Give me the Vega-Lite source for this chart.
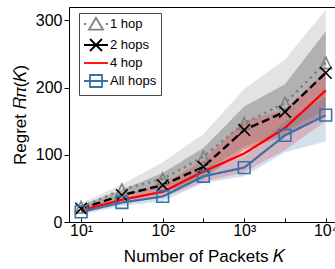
{
  "$schema": "https://vega.github.io/schema/vega-lite/v6.json",
  "autosize": {"type": "none"},
  "padding": {"left": 69, "top": 7, "right": 0, "bottom": 47},
  "width": 269,
  "height": 215,
  "config": {
    "font": "Liberation Sans",
    "view": {"stroke": "black", "strokeWidth": 1},
    "axis": {"domainColor": "black", "tickColor": "black", "labelColor": "black", "titleColor": "black", "grid": false, "labelFont": "Liberation Sans", "titleFont": "Liberation Sans", "titleFontWeight": "normal"}
  },
  "data": {
    "values": [
      {"series": "1 hop", "k": 10, "mean": 22, "lo": 17, "hi": 28},
      {"series": "1 hop", "k": 31.62, "mean": 48, "lo": 38, "hi": 56},
      {"series": "1 hop", "k": 100, "mean": 64, "lo": 50, "hi": 89},
      {"series": "1 hop", "k": 316.2, "mean": 97, "lo": 74, "hi": 131},
      {"series": "1 hop", "k": 1000, "mean": 147, "lo": 112, "hi": 198},
      {"series": "1 hop", "k": 3162, "mean": 177, "lo": 135, "hi": 242},
      {"series": "1 hop", "k": 10000, "mean": 237, "lo": 168, "hi": 316},
      {"series": "2 hops", "k": 10, "mean": 20, "lo": 15, "hi": 25},
      {"series": "2 hops", "k": 31.62, "mean": 40, "lo": 33, "hi": 48},
      {"series": "2 hops", "k": 100, "mean": 55, "lo": 43, "hi": 73},
      {"series": "2 hops", "k": 316.2, "mean": 82, "lo": 64, "hi": 110},
      {"series": "2 hops", "k": 1000, "mean": 137, "lo": 108, "hi": 172},
      {"series": "2 hops", "k": 3162, "mean": 164, "lo": 128, "hi": 205},
      {"series": "2 hops", "k": 10000, "mean": 222, "lo": 162, "hi": 284},
      {"series": "4 hop", "k": 10, "mean": 17, "lo": 13, "hi": 22},
      {"series": "4 hop", "k": 31.62, "mean": 33, "lo": 27, "hi": 40},
      {"series": "4 hop", "k": 100, "mean": 45, "lo": 36, "hi": 56},
      {"series": "4 hop", "k": 316.2, "mean": 75, "lo": 60, "hi": 92},
      {"series": "4 hop", "k": 1000, "mean": 102, "lo": 74, "hi": 150},
      {"series": "4 hop", "k": 3162, "mean": 140, "lo": 107, "hi": 167},
      {"series": "4 hop", "k": 10000, "mean": 196, "lo": 150, "hi": 225},
      {"series": "All hops", "k": 10, "mean": 15, "lo": 11, "hi": 20},
      {"series": "All hops", "k": 31.62, "mean": 29, "lo": 24, "hi": 35},
      {"series": "All hops", "k": 100, "mean": 38, "lo": 31, "hi": 46},
      {"series": "All hops", "k": 316.2, "mean": 68, "lo": 58, "hi": 80},
      {"series": "All hops", "k": 1000, "mean": 81, "lo": 68, "hi": 97},
      {"series": "All hops", "k": 3162, "mean": 129, "lo": 104, "hi": 150},
      {"series": "All hops", "k": 10000, "mean": 159, "lo": 120, "hi": 186}
    ]
  },
  "encoding": {
    "x": {
      "field": "k", "type": "quantitative",
      "scale": {"type": "log", "domain": [7.1, 14125], "nice": false},
      "axis": {
        "values": [10, 31.62, 100, 316.2, 1000, 3162, 10000],
        "labelExpr": "datum.value == 10 ? '10¹' : datum.value == 100 ? '10²' : datum.value == 1000 ? '10³' : datum.value == 10000 ? '10⁴' : ''",
        "tickSize": -4, "labelPadding": 4, "labelFontSize": 16, "labelFlush": false, "labelOverlap": false,
        "title": "Number of Packets 𝐾", "titleFontSize": 17, "titlePadding": 10
      }
    },
    "y": {
      "field": "mean", "type": "quantitative",
      "scale": {"domain": [0, 320], "nice": false, "zero": true},
      "axis": {
        "values": [0, 100, 200, 300], "tickSize": 5, "labelPadding": 2, "labelFontSize": 16,
        "title": "Regret 𝑅𝜋(𝐾)", "titleFontSize": 17, "titlePadding": 6
      }
    }
  },
  "layer": [
    {
      "mark": {"type": "area", "fillOpacity": 0.22},
      "encoding": {
        "y": {"field": "lo", "type": "quantitative"},
        "y2": {"field": "hi"},
        "fill": {"field": "series", "type": "nominal", "scale": {"domain": ["All hops", "4 hop", "2 hops", "1 hop"], "range": ["#3a70a8", "#ff0000", "#000000", "#808080"]}, "legend": null}
      }
    },
    {
      "mark": {"type": "line"},
      "encoding": {
        "stroke": {
          "field": "series", "type": "nominal",
          "scale": {"domain": ["All hops", "4 hop", "2 hops", "1 hop"], "range": ["#3a70a8", "#ff0000", "#000000", "#808080"]},
          "legend": null
        },
        "strokeDash": {
          "field": "series", "type": "nominal",
          "scale": {"domain": ["All hops", "4 hop", "2 hops", "1 hop"], "range": [[1, 0], [1, 0], [8, 4], [2.5, 4]]},
          "legend": null
        },
        "strokeWidth": {
          "field": "series", "type": "nominal",
          "scale": {"domain": ["All hops", "4 hop", "2 hops", "1 hop"], "range": [2.2, 2.5, 2.5, 2.5]},
          "legend": null
        }
      }
    },
    {
      "transform": [{"filter": "datum.series == '1 hop'"}],
      "mark": {"type": "point", "filled": false, "size": 169, "strokeWidth": 1.6, "color": "#808080", "opacity": 1, "shape": "M0,-0.9L-0.85,0.9L0.85,0.9Z"}
    },
    {
      "transform": [{"filter": "datum.series == '2 hops'"}],
      "mark": {"type": "point", "filled": false, "size": 169, "strokeWidth": 1.6, "color": "#000000", "opacity": 1, "shape": "M-0.9,-0.9L0.9,0.9M-0.9,0.9L0.9,-0.9"}
    },
    {
      "transform": [{"filter": "datum.series == 'All hops'"}],
      "mark": {"type": "point", "filled": false, "size": 169, "strokeWidth": 1.6, "color": "#3a70a8", "opacity": 1, "shape": "M-0.9,-0.9L0.9,-0.9L0.9,0.9L-0.9,0.9Z"}
    },
    {
      "mark": {"type": "point", "filled": false, "opacity": 0, "size": 10},
      "encoding": {
        "color": {
          "field": "series", "type": "nominal",
          "scale": {"domain": ["1 hop", "2 hops", "4 hop", "All hops"], "range": ["#808080", "#000000", "#ff0000", "#3a70a8"]},
          "legend": {
            "orient": "none", "legendX": 10, "legendY": 6, "title": null,
            "fillColor": "white", "strokeColor": "#444444", "padding": 4, "cornerRadius": 0,
            "labelFontSize": 13, "labelFont": "Liberation Sans", "labelColor": "black", "labelOffset": 13,
            "symbolSize": 144, "symbolStrokeWidth": 1.8, "symbolOpacity": 1, "rowPadding": 1
          }
        },
        "shape": {
          "field": "series", "type": "nominal",
          "scale": {"domain": ["1 hop", "2 hops", "4 hop", "All hops"], "range": [
            "M-1,0L-0.65,0M2.65,0L3,0M1,-1.05L-0.17,0.95L2.17,0.95Z",
            "M-1,0L3,0M0,-1L2,1M0,1L2,-1",
            "M-1,0L3,0",
            "M-1,0L3,0M0,-1L2,-1L2,1L0,1Z"
          ]},
          "legend": {
            "orient": "none", "legendX": 10, "legendY": 6, "title": null,
            "fillColor": "white", "strokeColor": "#444444", "padding": 4, "cornerRadius": 0,
            "labelFontSize": 13, "labelFont": "Liberation Sans", "labelColor": "black", "labelOffset": 13,
            "symbolSize": 144, "symbolStrokeWidth": 1.8, "symbolOpacity": 1, "rowPadding": 1
          }
        }
      }
    }
  ]
}
